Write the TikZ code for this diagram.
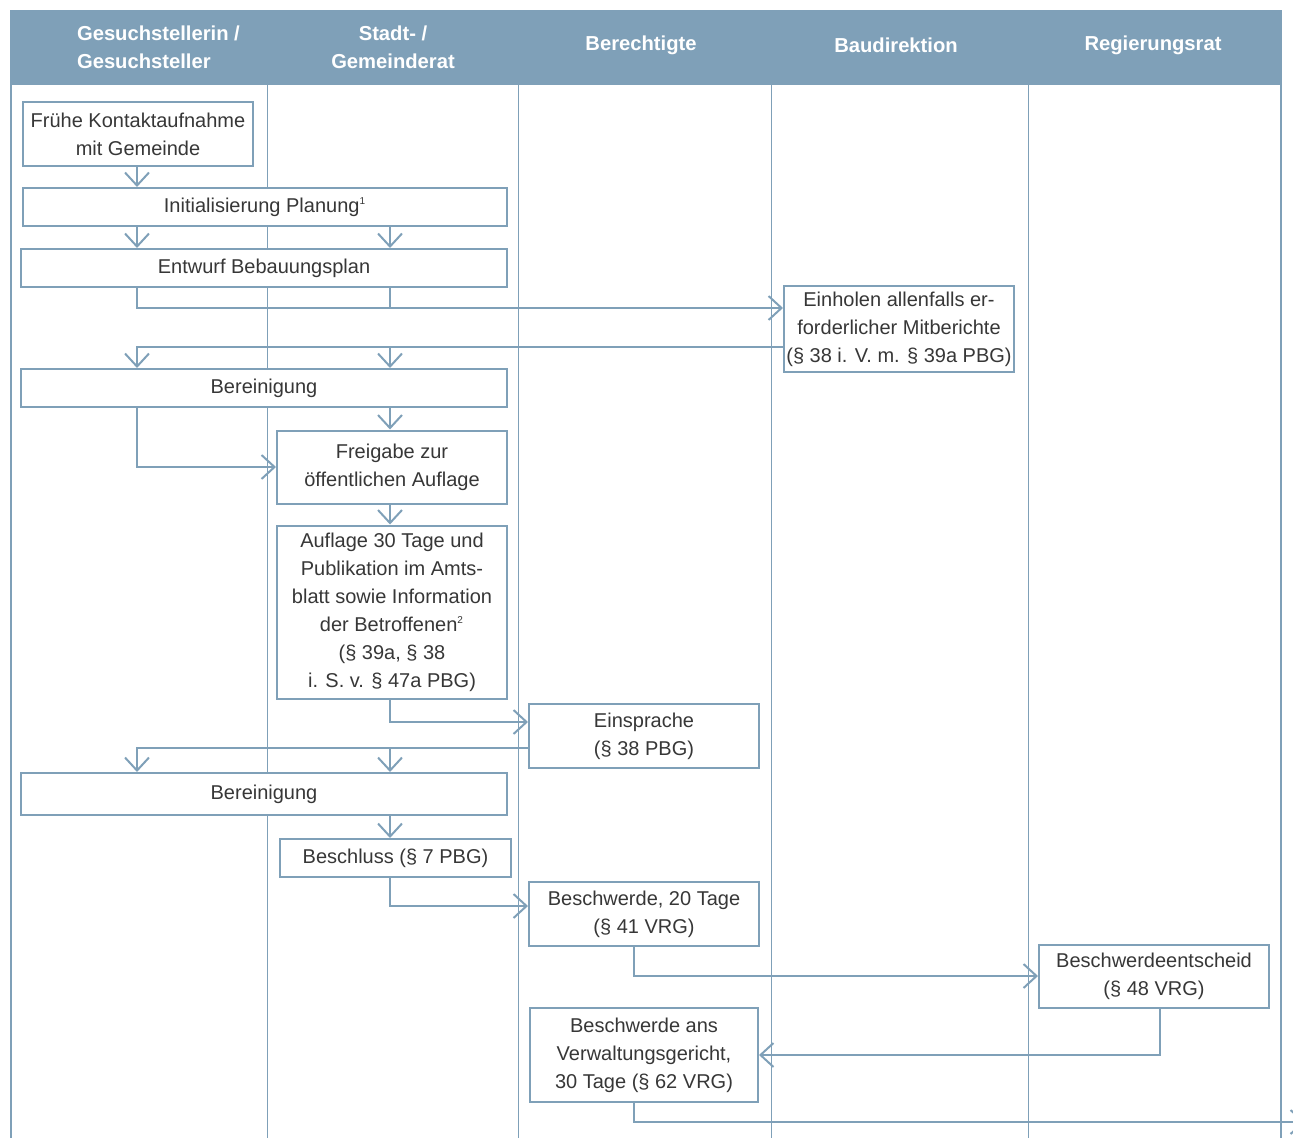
\documentclass[tikz,border=0pt]{standalone}
\usepackage{fontspec}
\setmainfont{Liberation Sans}
\usetikzlibrary{arrows.meta}
\definecolor{lanecol}{RGB}{127,160,184}
\definecolor{txtcol}{RGB}{55,55,55}
\tikzset{
	stepbox/.style={draw=lanecol, line width=1pt, fill=white, inner sep=0pt, align=center,
		text=txtcol, font=\fontsize{10}{14}\selectfont},
	headtxt/.style={text=white, align=center, font=\bfseries\fontsize{10.1}{14}\selectfont},
	conn/.style={draw=lanecol, line width=1pt},
	arr/.style={conn, -{Straight Barb[length=6.5pt, width=12pt, line width=1pt]}}
}
\begin{document}
\begin{tikzpicture}[x=0.5pt, y=-0.5pt]
	\useasboundingbox (0,0) rectangle (1293,1138);
	\fill[lanecol] (10,10) rectangle (1282,85);
	\node[headtxt, anchor=west, align=left] (h1) at (70,47) {Gesuchstellerin /\\Gesuchsteller};
	\node[headtxt] (h2) at (393,47) {Stadt- /\\Gemeinderat};
	\node[headtxt] (h3) at (641,45) {Berechtigte};
	\node[headtxt] (h4) at (896,45) {Baudirektion};
	\node[headtxt] (h5) at (1153,45) {Regierungsrat};
	\foreach \x in {267,518,771,1028}
	  {
	      \draw[lanecol, line width=0.5pt] (\x,85) -- (\x,1138);
	  }
	\draw[lanecol, line width=1pt] (11,85) -- (11,1138);
	\draw[lanecol, line width=1pt] (1281,85) -- (1281,1138);
	% columns of the connectors
	\coordinate (colA) at (137,0);
	\coordinate (colB) at (390,0);
	\coordinate (colC) at (634,0);
	\coordinate (colE) at (1160,0);

	\node[stepbox, minimum width=115pt, minimum height=32pt] (kontakt) at (138,134) {Frühe Kontaktaufnahme\\mit Gemeinde};
	\node[stepbox, minimum width=242pt, minimum height=19pt] (init) at (265,207) {Initialisierung Planung\textsuperscript{\tiny 1}};
	\node[stepbox, minimum width=243pt, minimum height=19pt] (entwurf) at (264,268) {Entwurf Bebauungsplan};
	\node[stepbox, minimum width=115pt, minimum height=43pt] (mitber) at (899,329) {Einholen allenfalls er-\\forderlicher Mitberichte\\(§ 38 i. V. m. § 39a PBG)};
	\node[stepbox, minimum width=243pt, minimum height=19pt] (bereinA) at (264,388) {Bereinigung};
	\node[stepbox, minimum width=115pt, minimum height=36.5pt] (freigabe) at (392,467) {Freigabe zur\\öffentlichen Auflage};
	\node[stepbox, minimum width=115pt, minimum height=86.5pt] (auflage) at (392,612) {Auflage 30 Tage und\\Publikation im Amts-\\blatt sowie Information\\der Betroffenen\textsuperscript{\tiny 2}\\(§ 39a, § 38\\i. S. v. § 47a PBG)};
	\node[stepbox, minimum width=115pt, minimum height=32pt] (einspr) at (644,736) {Einsprache\\(§ 38 PBG)};
	\node[stepbox, minimum width=243pt, minimum height=21pt] (bereinB) at (264,794) {Bereinigung};
	\node[stepbox, minimum width=115.5pt, minimum height=19pt] (beschluss) at (395.5,858) {Beschluss (§ 7 PBG)};
	\node[stepbox, minimum width=115pt, minimum height=32pt] (beschw) at (644,914) {Beschwerde, 20 Tage\\(§ 41 VRG)};
	\node[stepbox, minimum width=115pt, minimum height=31.5pt] (entscheid) at (1154,976) {Beschwerdeentscheid\\(§ 48 VRG)};
	\node[stepbox, minimum width=114pt, minimum height=47pt] (vwgericht) at (644,1055) {Beschwerde ans\\Verwaltungsgericht,\\30 Tage (§ 62 VRG)};

	\coordinate (mitin) at ([yshift=10.5pt]mitber.west);
	\coordinate (mitout) at ([yshift=-9pt]mitber.west);
	\coordinate (einin) at ([yshift=7pt]einspr.west);
	\coordinate (einout) at ([yshift=-6pt]einspr.west);
	\coordinate (weiter) at (1305,1122);

	\draw[arr] (kontakt.south -| colA) -- (init.north -| colA);
	\draw[arr] (init.south -| colA) -- (entwurf.north -| colA);
	\draw[arr] (init.south -| colB) -- (entwurf.north -| colB);
	\draw[arr] (entwurf.south -| colA) |- (mitin);
	\draw[conn] (entwurf.south -| colB) -- (colB |- mitin);
	\draw[arr] (mitout) -| (bereinA.north -| colA);
	\draw[arr] (colB |- mitout) -- (bereinA.north -| colB);
	\draw[arr] (bereinA.south -| colB) -- (freigabe.north -| colB);
	\draw[arr] (bereinA.south -| colA) |- (freigabe.west);
	\draw[arr] (freigabe.south -| colB) -- (auflage.north -| colB);
	\draw[arr] (auflage.south -| colB) |- (einin);
	\draw[arr] (einout) -| (bereinB.north -| colA);
	\draw[arr] (colB |- einout) -- (bereinB.north -| colB);
	\draw[arr] (bereinB.south -| colB) -- (beschluss.north -| colB);
	\draw[arr] (beschluss.south -| colB) |- ([yshift=4pt]beschw.west);
	\draw[arr] (beschw.south -| colC) |- (entscheid.west);
	\draw[arr] (entscheid.south -| colE) |- (vwgericht.east);
	\draw[arr] (vwgericht.south -| colC) |- (weiter);
\end{tikzpicture}
\end{document}
